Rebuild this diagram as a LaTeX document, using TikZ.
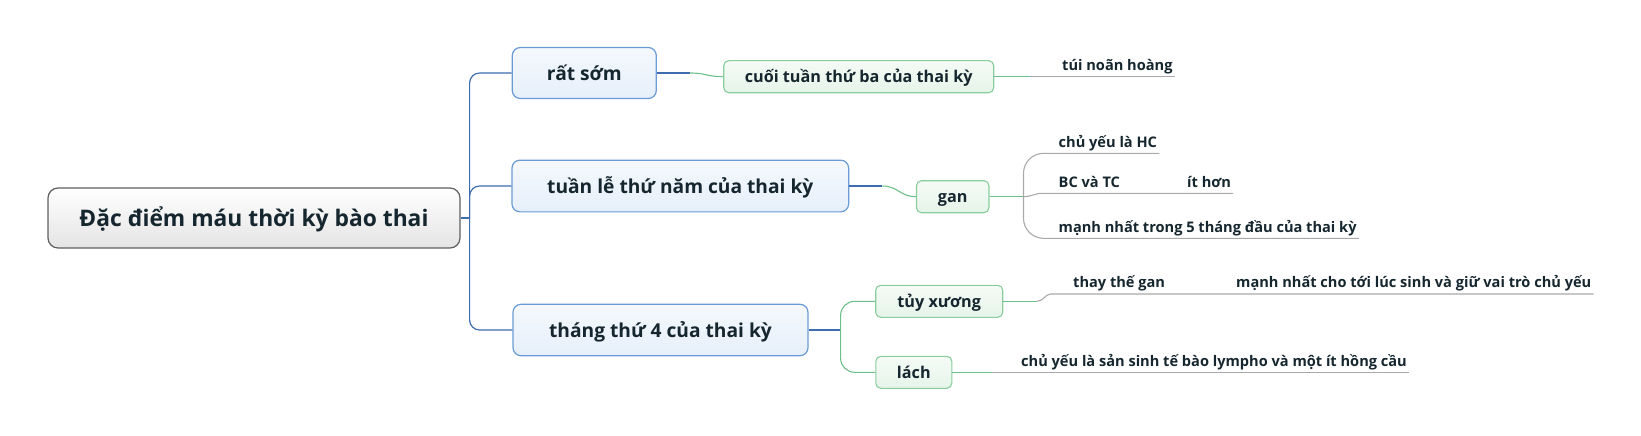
\documentclass[tikz,border=0pt]{standalone}
\usepackage{fontspec}
\setmainfont{Open Sans}
\usetikzlibrary{calc}
\definecolor{txt}{HTML}{15262F}
\definecolor{rootline}{HTML}{5F5F5F}
\definecolor{rootfill}{HTML}{E4E4E4}
\definecolor{l1line}{HTML}{6B9BD6}
\definecolor{l1fill}{HTML}{E6EFFA}
\definecolor{l2line}{HTML}{88CD9B}
\definecolor{l2fill}{HTML}{E6F4E9}
\definecolor{wireblue}{HTML}{3D6CB0}
\definecolor{wiregreen}{HTML}{6CC08A}
\definecolor{wiregray}{HTML}{A9A9A9}

\begin{document}
\begin{tikzpicture}[x=1pt, y=-1pt,
    rootbox/.style={draw=rootline, line width=1.2pt, rounded corners=10pt, top color=white, bottom color=rootfill,
        inner sep=0pt, text=txt, font=\fontsize{22.8}{26}\selectfont\bfseries, text height=16.4pt, text depth=0pt},
    mainbox/.style={draw=l1line, line width=1.2pt, rounded corners=8pt, top color=l1fill!40!white, bottom color=l1fill,
        inner sep=0pt, text=txt, font=\fontsize{19.2}{22}\selectfont\bfseries, text height=14.2pt, text depth=0pt},
    subbox/.style={draw=l2line, line width=1.1pt, rounded corners=5pt, top color=l2fill!40!white, bottom color=l2fill,
        inner sep=0pt, minimum height=32pt, text=txt, font=\fontsize{16.2}{19}\selectfont\bfseries, text height=12pt, text depth=0pt},
    leaf/.style={anchor=south west, inner xsep=2pt, inner ysep=2pt, text=txt, font=\fontsize{14.6}{17}\selectfont\bfseries,
        text height=11pt, text depth=4pt},
    bluewire/.style={draw=wireblue, line width=1.2pt, rounded corners=10pt},
    greenwire/.style={draw=wiregreen, line width=1.1pt, rounded corners=14pt},
    graywire/.style={draw=wiregray, line width=1.1pt, rounded corners=20pt}]
    \useasboundingbox (0,0) rectangle (1641,436);

    \node[rootbox, minimum width=412pt, minimum height=60pt] (root) at (254,218) {Đặc điểm máu thời kỳ bào thai};
    \node[mainbox, minimum width=144pt, minimum height=51pt] (rs) at (584.3,73) {rất sớm};
    \node[mainbox, minimum width=336.7pt, minimum height=51.7pt] (tl) at (680.3,186) {tuần lễ thứ năm của thai kỳ};
    \node[mainbox, minimum width=295pt, minimum height=51.4pt] (t4) at (660.5,330) {tháng thứ 4 của thai kỳ};
    \node[subbox, minimum width=270pt] (cuoi) at (858.7,76.7) {cuối tuần thứ ba của thai kỳ};
    \node[subbox, minimum width=72.5pt] (gan) at (952.7,196.7) {gan};
    \node[subbox, minimum width=127pt] (tuy) at (939.2,301.3) {tủy xương};
    \node[subbox, minimum width=76pt] (lach) at (913.8,372.3) {lách};
    \node[leaf] (tui) at (1060,76.7) {túi noãn hoàng};
    \node[leaf] (hc) at (1056.5,153.3) {chủ yếu là HC};
    \node[leaf] (bc) at (1056.5,193.3) {BC và TC};
    \node[leaf] (ith) at (1185,193.3) {ít hơn};
    \node[leaf] (m5) at (1056.5,238.3) {mạnh nhất trong 5 tháng đầu của thai kỳ};
    \node[leaf] (tt) at (1071,294) {thay thế gan};
    \node[leaf] (ms) at (1234,294) {mạnh nhất cho tới lúc sinh và giữ vai trò chủ yếu};
    \node[leaf] (ly) at (1019,372.3) {chủ yếu là sản sinh tế bào lympho và một ít hồng cầu};

    \draw[bluewire] (root.east) -- ++(9,0) coordinate (j0);
    \draw[bluewire] (j0) |- (rs.west);
    \draw[bluewire] (j0) |- (tl.west);
    \draw[bluewire] (j0) |- (t4.west);

    \draw[bluewire] (rs.east) -- ++(33,0) coordinate (c1);
    \draw[greenwire] (c1) .. controls +(16,0) and +(-16,0) .. (cuoi.west);
    \draw[bluewire] (tl.east) -- ++(33,0) coordinate (c2);
    \draw[greenwire] (c2) .. controls +(16,0) and +(-16,0) .. (gan.west);
    \draw[bluewire] (t4.east) -- ++(32,0) coordinate (c3);
    \draw[greenwire] (c3) |- (tuy.west);
    \draw[greenwire] (c3) |- (lach.west);

    \draw[greenwire] (cuoi.east) -- ++(36,0) coordinate (c4);
    \draw[graywire] (c4) -- (tui.south east);
    \draw[greenwire] (gan.east) -- ++(34,0) coordinate (c5);
    \draw[graywire] (c5) |- (hc.south east);
    \draw[graywire] (c5) |- (m5.south east);
    \draw[graywire, sharp corners] (c5) to[out=0, in=180] ($(bc.south west)+(-14,0)$) -- (ith.south east);
    \draw[greenwire] (tuy.east) -- ++(34,0) coordinate (c6);
    \draw[graywire, sharp corners] (c6) to[out=0, in=180] ($(tt.south west)+(-20,0)$) -- (ms.south east);
    \draw[greenwire] (lach.east) -- ++(40,0) coordinate (c7);
    \draw[graywire] (c7) -- (ly.south east);
\end{tikzpicture}
\end{document}
